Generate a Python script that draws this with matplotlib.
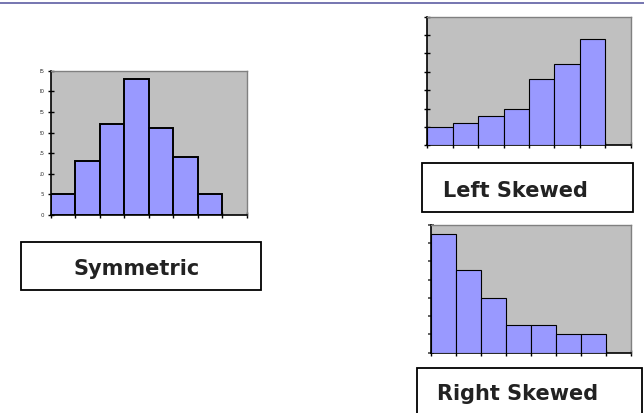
import matplotlib
matplotlib.use("Agg")
import matplotlib.pyplot as plt
from matplotlib.patches import Rectangle
from matplotlib.lines import Line2D
from matplotlib.transforms import Bbox, TransformedBbox

W, H = 644, 413

# bin counts for the three shapes (7 filled bins out of 8 slots)
symmetric = [5, 13, 22, 33, 21, 14, 5]
left_skewed = [5, 6, 8, 10, 18, 22, 29]
right_skewed = [32.5, 22.5, 15, 7.5, 7.5, 5, 5]
n_slots = 8
y_ticks = [0, 5, 10, 15, 20, 25, 30, 35]

BAR = "#9999ff"
BG = "#c0c0c0"


def px_rect(l, t, r, b):
    # pixel box (top-left origin) -> figure fraction [x, y, w, h]
    return [l / W, (H - b) / H, (r - l) / W, (b - t) / H]


def histo(fig, box, counts, edge_lw):
    ax = fig.add_axes(px_rect(*box))
    ax.set_facecolor(BG)
    ax.bar(range(len(counts)), counts, width=1.0, align="edge",
           color=BAR, edgecolor="black", linewidth=edge_lw, zorder=3)
    ax.set_xlim(0, n_slots)
    ax.set_ylim(0, 35)
    ax.set_xticks(range(n_slots + 1))
    ax.set_yticks(y_ticks)
    ax.set_xticklabels([])
    for s in ("top", "right"):
        ax.spines[s].set_color("#808080")
        ax.spines[s].set_linewidth(1.0)
    for s in ("left", "bottom"):
        ax.spines[s].set_color("black")
        ax.spines[s].set_linewidth(1.2)
    ax.tick_params(direction="inout", length=5, width=1.0, color="black")
    return ax


fig = plt.figure(figsize=(W / 100, H / 100), dpi=100)

# thin rule along the top edge
fig.add_artist(Line2D([0, 1], [1 - 2.5 / H, 1 - 2.5 / H],
                      transform=fig.transFigure, color="#6a6aaa", lw=1.3))

ax1 = histo(fig, (50.7, 70.7, 246.7, 215), symmetric, 1.4)
ax1.set_yticklabels([str(v) for v in y_ticks], fontsize=4, color="#333333")
ax1.tick_params(axis="y", pad=2.2)

ax2 = histo(fig, (427.3, 16.7, 630.7, 145.3), left_skewed, 0.8)
ax2.set_yticklabels([])
ax3 = histo(fig, (430.7, 224.7, 631.3, 352.7), right_skewed, 0.8)
ax3.set_yticklabels([])
ax3.tick_params(axis="y", color="#555555", width=1.3)

# caption boxes: text, box (l, t, r, b), text x, baseline y, alignment
captions = [
    ("Symmetric", (21, 242, 261, 290), 137, 275, "center"),
    ("Left Skewed", (422.3, 163.3, 632.7, 212.3), 443.3, 196.7, "left"),
    ("Right Skewed", (417.3, 367.7, 641.7, 420), 436.7, 400, "left"),
]
for label, box, tx, ty, ha in captions:
    x, y, w, h = px_rect(*box)
    fig.add_artist(Rectangle((x, y), w, h, transform=fig.transFigure,
                             facecolor="white", edgecolor="black", lw=1.3))
    fig.text(tx / W, 1 - ty / H, label, ha=ha, va="baseline",
             fontsize=15, fontweight="bold", color="#222222",
             family="DejaVu Sans")

# the left column of the axis labels is cut off at the panel edge
fig.canvas.draw()
clip = TransformedBbox(Bbox([[40.4 / W, 0], [1, 1]]), fig.transFigure)
for tick in ax1.yaxis.get_major_ticks():
    tick.label1.set_clip_box(clip)
    tick.label1.set_clip_on(True)

fig.savefig("out.png", dpi=100)
